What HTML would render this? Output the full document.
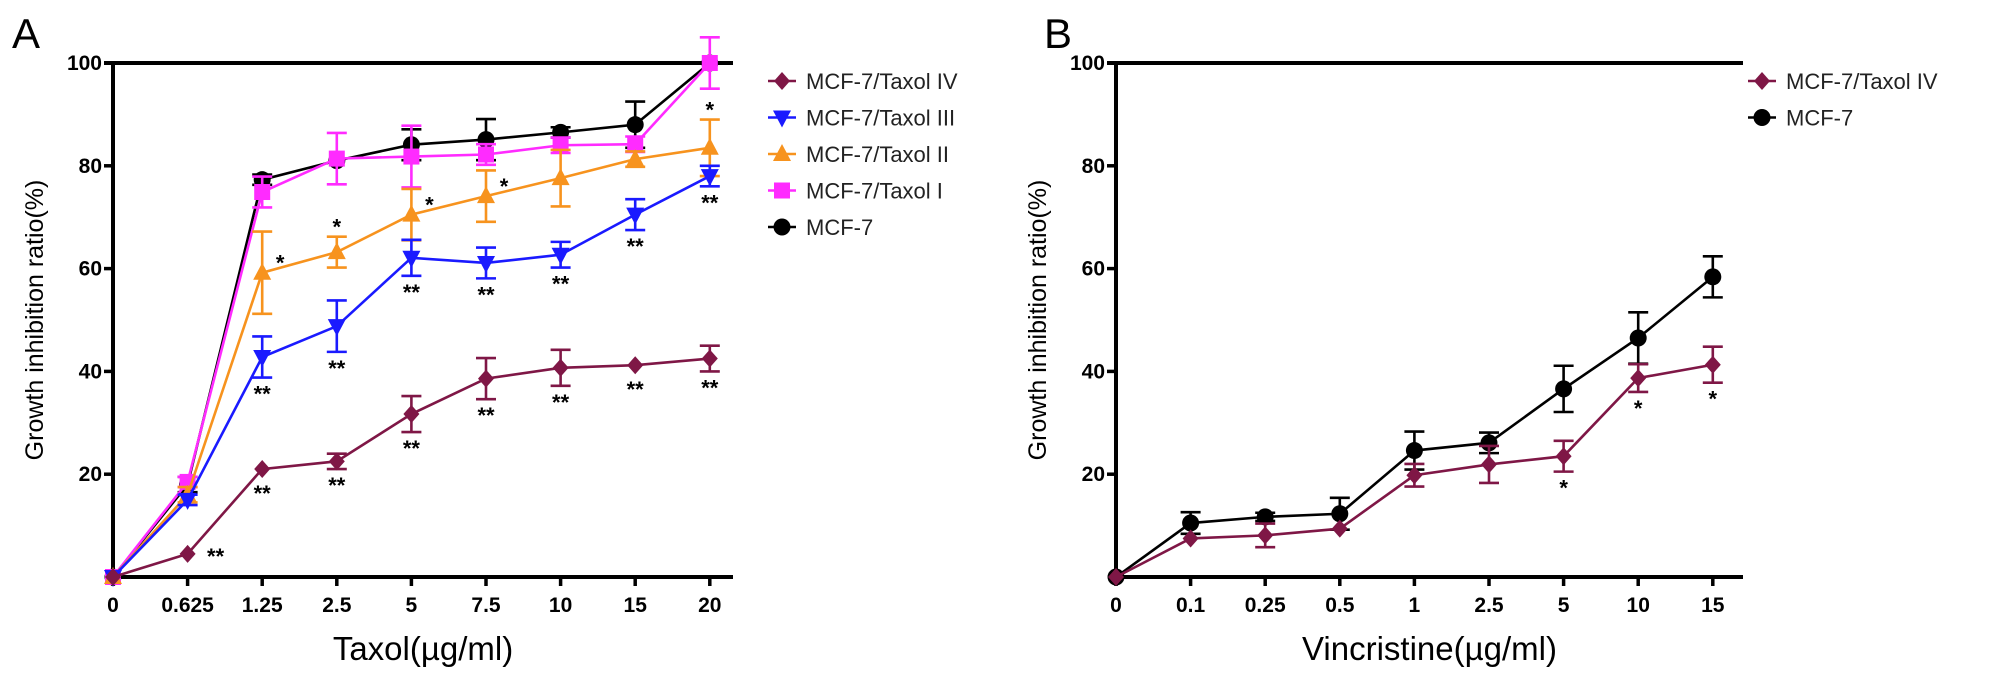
<!DOCTYPE html>
<html><head><meta charset="utf-8"><style>
html,body{margin:0;padding:0;background:#fff;}
svg{display:block;font-family:"Liberation Sans",Arial,sans-serif;}
</style></head><body>
<svg id="fig" width="2008" height="678" viewBox="0 0 2008 678" xmlns="http://www.w3.org/2000/svg"></svg>
<script>
// ---------- Panel A data ----------
const catsA = ["0","0.625","1.25","2.5","5","7.5","10","15","20"];
const mcf7A = [0,18,77.3,81,84.1,85.1,86.5,88,100];
const mcf7AErr = [0,1.5,1,0,3,4,1,4.5,0.5];
const t1A = [0,18.5,74.9,81.4,81.8,82.2,84,84.2,100];
const t1AErr = [0,1,3,5,6,2,1.5,1.5,5];
const t2A = [0,16,59.2,63.2,70.5,74.1,77.6,81.3,83.5];
const t2AErr = [0,1.5,8,3,5,5,5.5,1.5,5.5];
const t3A = [0,15,42.8,48.8,62.1,61.1,62.7,70.5,78];
const t3AErr = [0,1,4,5,3.5,3,2.5,3,2];
const t4A = [0,4.5,21,22.5,31.7,38.6,40.7,41.2,42.5];
const t4AErr = [0,0,0,1.5,3.5,4,3.5,0.5,2.5];
const sigT2A = ["","","*","*","*","*","","","*"];
const sigT2APos = ["","","r","a","r","r","","","a"];
const sigT3A = ["","","**","**","**","**","**","**","**"];
const sigT4A = ["","**","**","**","**","**","**","**","**"];
const sigT4APos = ["","r","b","b","b","b","b","b","b"];
const ticksY = [20,40,60,80,100];
// ---------- Panel B data ----------
const catsB = ["0","0.1","0.25","0.5","1","2.5","5","10","15"];
const mcf7B = [0,10.5,11.7,12.3,24.6,26.1,36.6,46.5,58.4];
const mcf7BErr = [0,2.1,0.8,3.1,3.7,2,4.5,5,4];
const t4B = [0,7.5,8.1,9.4,19.8,21.9,23.5,38.7,41.3];
const t4BErr = [0,0.5,2.3,0.5,2.2,3.6,3,2.7,3.5];
const sigT4B = ["","","","","","","*","*","*"];

const NS="http://www.w3.org/2000/svg";
const svg=document.getElementById('fig');
function mk(tag,attrs,parent){const e=document.createElementNS(NS,tag);for(const k in attrs)e.setAttribute(k,attrs[k]);(parent||svg).appendChild(e);return e;}

const Y0=577, UNIT=5.14, STEP=74.6;
function yS(v){return Y0-v*UNIT;}

const COLORS={mcf7:"#000",t1:"#ff2bff",t2:"#f7931e",t3:"#1a1aff",t4:"#7f1746"};

function marker(g,shape,x,y,color){
  let e;
  if(shape==="circle") e=mk('circle',{cx:x,cy:y,r:8.5,fill:color},g);
  else if(shape==="square") e=mk('rect',{x:x-8,y:y-8,width:16,height:16,fill:color},g);
  else if(shape==="tri") e=mk('polygon',{points:`${x},${y-10} ${x-9},${y+7} ${x+9},${y+7}`,fill:color},g);
  else if(shape==="tridown") e=mk('polygon',{points:`${x},${y+10} ${x-9},${y-7} ${x+9},${y-7}`,fill:color},g);
  else e=mk('polygon',{points:`${x},${y-9} ${x+8},${y} ${x},${y+9} ${x-8},${y}`,fill:color},g);
  return e;
}

function axes(x0,cats,xEnd,title,nm){
  const g=mk('g',{});
  
  
  mk('line',{x1:x0,y1:yS(0),x2:xEnd,y2:yS(0),stroke:'#000','stroke-width':4},g);
  mk('line',{x1:x0,y1:yS(0)+2,x2:x0,y2:yS(100)-2,stroke:'#000','stroke-width':4},g);
  mk('line',{x1:x0-9,y1:yS(100),x2:xEnd,y2:yS(100),stroke:'#000','stroke-width':4},g);
  ticksY.forEach(v=>{
    const t=mk('line',{x1:x0-9,y1:yS(v),x2:x0,y2:yS(v),stroke:'#000','stroke-width':3.5},g);
    
    
    const l=mk('text',{x:x0-11,y:yS(v)+7,'text-anchor':'end','font-size':21,'font-weight':'bold'},g);
    l.textContent=v;
    
    
  });
  cats.forEach((c,i)=>{
    const x=x0+i*STEP;
    mk('line',{x1:x,y1:yS(0),x2:x,y2:yS(0)+9,stroke:'#000','stroke-width':3.5},g);
    const l=mk('text',{x:x,y:612,'text-anchor':'middle','font-size':21,'font-weight':'bold'},g);
    l.textContent=c;
    
    
  });
  const xt=mk('text',{x:(x0+xEnd)/2,y:660,'text-anchor':'middle','font-size':33},g);
  xt.textContent=title;
  
  
  const yt=mk('text',{x:0,y:0,'text-anchor':'middle','font-size':25,transform:`translate(${x0-70},${yS(50)}) rotate(-90)`},g);
  yt.textContent='Growth inhibition ratio(%)';
  
  
}

function series(x0,vals,errs,color,shape,nm){
  const g=mk('g',{});
  
  
  const pts=vals.map((v,i)=>`${x0+i*STEP},${yS(v)}`).join(' ');
  mk('polyline',{points:pts,fill:'none',stroke:color,'stroke-width':2.6},g);
  vals.forEach((v,i)=>{
    const x=x0+i*STEP,e=errs[i];
    if(e>0.6){
      mk('line',{x1:x,y1:yS(v+e),x2:x,y2:yS(v-e),stroke:color,'stroke-width':2.6},g);
      mk('line',{x1:x-10,y1:yS(v+e),x2:x+10,y2:yS(v+e),stroke:color,'stroke-width':2.6},g);
      mk('line',{x1:x-10,y1:yS(v-e),x2:x+10,y2:yS(v-e),stroke:color,'stroke-width':2.6},g);
    }
    const m=marker(g,shape,x,yS(v),color);
    
    
  });
}

function stars(x0,vals,errs,sig,pos){
  sig.forEach((s,i)=>{
    if(!s)return;
    let x=x0+i*STEP,y;
    const v=vals[i],e=errs[i];
    const p=pos?pos[i]:'b';
    if(p==='r'){ if(s==='**'){x+=28;y=yS(v)+10;} else {x+=18;y=yS(v)-2;} }
    else if(p==='a'){y=yS(v+e)-2;}
    else {y=yS(v-Math.max(e,1.5))+24;}
    const t=mk('text',{x:x,y:y,'text-anchor':'middle','font-size':22,'font-weight':'bold'});
    t.textContent=s;
    
    
  });
}

function legend(x,y0,entries,nm){
  const g=mk('g',{});
  
  
  entries.forEach((en,i)=>{
    const y=y0+i*36.5;
    const eg=mk('g',{},g);
    
    
    mk('line',{x1:x-14,y1:y,x2:x+14,y2:y,stroke:en[1],'stroke-width':2.6},eg);
    marker(eg,en[2],x,y,en[1]);
    const t=mk('text',{x:x+24,y:y+8,'font-size':22,fill:'#222'},eg);
    t.textContent=en[0];
  });
}

// Panel A
const xA=113;
axes(xA,catsA,733,'Taxol(µg/ml)','panel-a');
series(xA,mcf7A,mcf7AErr,COLORS.mcf7,'circle','series-mcf7-a');
series(xA,t1A,t1AErr,COLORS.t1,'square','series-taxol-i');
series(xA,t2A,t2AErr,COLORS.t2,'tri','series-taxol-ii');
series(xA,t3A,t3AErr,COLORS.t3,'tridown','series-taxol-iii');
series(xA,t4A,t4AErr,COLORS.t4,'diamond','series-taxol-iv-a');
stars(xA,t2A,t2AErr,sigT2A,sigT2APos);
stars(xA,t3A,t3AErr,sigT3A,null);
stars(xA,t4A,t4AErr,sigT4A,sigT4APos);
legend(782,81,[["MCF-7/Taxol IV",COLORS.t4,'diamond'],["MCF-7/Taxol III",COLORS.t3,'tridown'],["MCF-7/Taxol II",COLORS.t2,'tri'],["MCF-7/Taxol I",COLORS.t1,'square'],["MCF-7",COLORS.mcf7,'circle']],'legend-a');

// Panel B
const xB=1116;
axes(xB,catsB,1743,'Vincristine(µg/ml)','panel-b');
series(xB,mcf7B,mcf7BErr,COLORS.mcf7,'circle','series-mcf7-b');
series(xB,t4B,t4BErr,COLORS.t4,'diamond','series-taxol-iv-b');
stars(xB,t4B,t4BErr,sigT4B,null);
legend(1762,81,[["MCF-7/Taxol IV",COLORS.t4,'diamond'],["MCF-7",COLORS.mcf7,'circle']],'legend-b');

// panel letters
const la=mk('text',{x:12,y:48,'font-size':42});la.textContent='A';


const lb=mk('text',{x:1044,y:48,'font-size':42});lb.textContent='B';


</script>
</body></html>
